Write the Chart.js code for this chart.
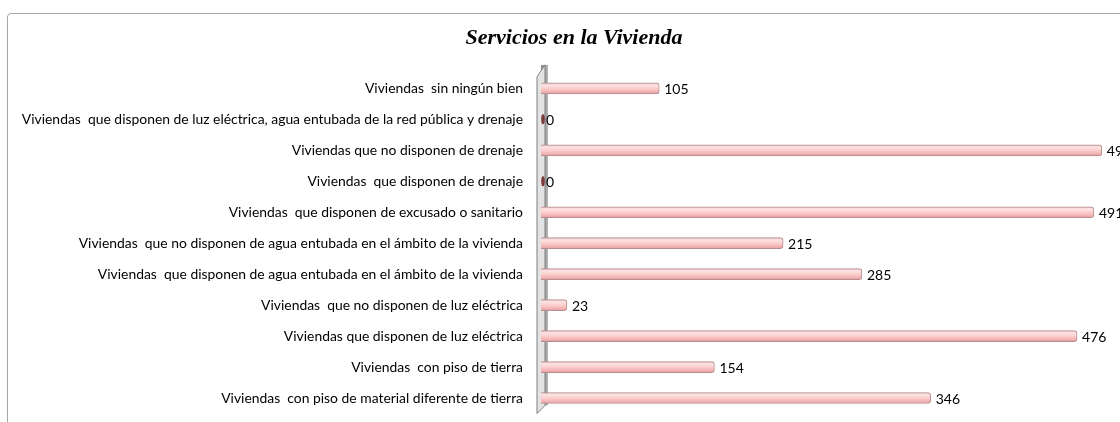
<!DOCTYPE html>
<html>
<head>
<meta charset="utf-8">
<script src="https://cdn.jsdelivr.net/npm/chart.js@4"></script>
<style>
  html, body { margin: 0; padding: 0; background: #fff; overflow: hidden; width: 1120px; height: 422px; }
  #marco {
    position: absolute; left: 7px; top: 13px; width: 1200px; height: 500px;
    border: 1px solid #a6a6a6; border-radius: 4px;
  }
  #contenedor { position: absolute; left: 0; top: 0; width: 1148px; height: 422px; }
</style>
</head>
<body>
<div id="marco"></div>
<div id="contenedor"><canvas id="grafico" width="1148" height="422"></canvas></div>
<script>
// Datos del gráfico (de arriba hacia abajo)
const categorias = [
    'Viviendas  sin ningún bien',
    'Viviendas  que disponen de luz eléctrica, agua entubada de la red pública y drenaje',
    'Viviendas que no disponen de drenaje',
    'Viviendas  que disponen de drenaje',
    'Viviendas  que disponen de excusado o sanitario',
    'Viviendas  que no disponen de agua entubada en el ámbito de la vivienda',
    'Viviendas  que disponen de agua entubada en el ámbito de la vivienda',
    'Viviendas  que no disponen de luz eléctrica',
    'Viviendas que disponen de luz eléctrica',
    'Viviendas  con piso de tierra',
    'Viviendas  con piso de material diferente de tierra'
];
const valores = [105, 0, 498, 0, 491, 215, 285, 23, 476, 154, 346];

const fuenteTexto = 'Lato, "Open Sans", sans-serif';

// Pared vertical gris del eje (efecto 3D)
const paredEje = {
    id: 'paredEje',
    beforeDatasetsDraw(chart) {
        const { ctx, chartArea } = chart;
        const x0 = chart.scales.x.getPixelForValue(0);
        const top = chartArea.top - 4;
        const bottom = chartArea.bottom;
        ctx.save();
        // cara trasera
        const grad = ctx.createLinearGradient(x0, 0, x0 + 7, 0);
        grad.addColorStop(0, '#8c8c8c');
        grad.addColorStop(1, '#b5b5b5');
        ctx.fillStyle = grad;
        ctx.fillRect(x0, top - 4, 7, bottom - top - 4);
        // cara lateral
        ctx.beginPath();
        ctx.moveTo(x0 - 4, top + 8);
        ctx.lineTo(x0 + 4, top - 4);
        ctx.lineTo(x0 + 4, bottom - 8);
        ctx.lineTo(x0 - 4, bottom);
        ctx.closePath();
        ctx.fillStyle = '#e3e3e3';
        ctx.fill();
        ctx.strokeStyle = '#7f7f7f';
        ctx.lineWidth = 1;
        ctx.stroke();
        ctx.restore();
    }
};

// Etiquetas de valor y marcas de valor cero
const etiquetasValor = {
    id: 'etiquetasValor',
    afterDatasetsDraw(chart) {
        const { ctx } = chart;
        const meta = chart.getDatasetMeta(0);
        ctx.save();
        ctx.font = '14px ' + fuenteTexto;
        ctx.fillStyle = '#000';
        ctx.textBaseline = 'middle';
        ctx.textAlign = 'left';
        meta.data.forEach((barra, i) => {
            const v = valores[i];
            if (v === 0) {
                ctx.beginPath();
                ctx.ellipse(barra.base + 2, barra.y, 1.8, 5, 0, 0, Math.PI * 2);
                ctx.fillStyle = '#7b3b3b';
                ctx.fill();
                ctx.fillStyle = '#000';
            }
            ctx.fillText(String(v), barra.x + 5, barra.y + 1);
        });
        ctx.restore();
    }
};

function rellenoBarra(context) {
    const chart = context.chart;
    if (!chart.chartArea || !chart.scales.y) return '#fbcaca';
    const y = chart.scales.y.getPixelForValue(context.dataIndex);
    if (!isFinite(y)) return '#fbcaca';
    const g = chart.ctx.createLinearGradient(0, y - 5.5, 0, y + 5.5);
    g.addColorStop(0, '#e9bcbc');
    g.addColorStop(0.2, '#fde4e4');
    g.addColorStop(0.55, '#fbcaca');
    g.addColorStop(0.85, '#f2aeae');
    g.addColorStop(1, '#d89a9a');
    return g;
}

new Chart(document.getElementById('grafico'), {
    type: 'bar',
    data: {
        labels: categorias,
        datasets: [{
            data: valores,
            backgroundColor: rellenoBarra,
            borderColor: '#b48e8e',
            borderWidth: 1,
            borderSkipped: 'left',
            borderRadius: { topRight: 3, bottomRight: 3, topLeft: 0, bottomLeft: 0 },
            barThickness: 11
        }]
    },
    options: {
        indexAxis: 'y',
        responsive: false,
        animation: false,
        layout: { padding: { top: 0, bottom: 8.5, left: 0, right: 0 } },
        plugins: {
            legend: { display: false },
            tooltip: { enabled: false },
            title: {
                display: true,
                text: 'Servicios en la Vivienda',
                color: '#000',
                font: { family: '"Liberation Serif", serif', size: 22, style: 'italic', weight: 'bold' },
                padding: { top: 25, bottom: 21.5 }
            }
        },
        scales: {
            x: {
                display: false,
                min: 0,
                max: 539,
                grid: { display: false }
            },
            y: {
                grid: { display: false, drawTicks: false, tickLength: 0 },
                border: { display: false },
                ticks: {
                    color: '#000',
                    font: { family: fuenteTexto, size: 13.9 },
                    padding: 18
                },
                afterFit(scale) {
                    scale.width = 541;
                    scale.paddingTop = 0;
                    scale.paddingBottom = 0;
                }
            }
        }
    },
    plugins: [paredEje, etiquetasValor]
});
</script>
</body>
</html>
